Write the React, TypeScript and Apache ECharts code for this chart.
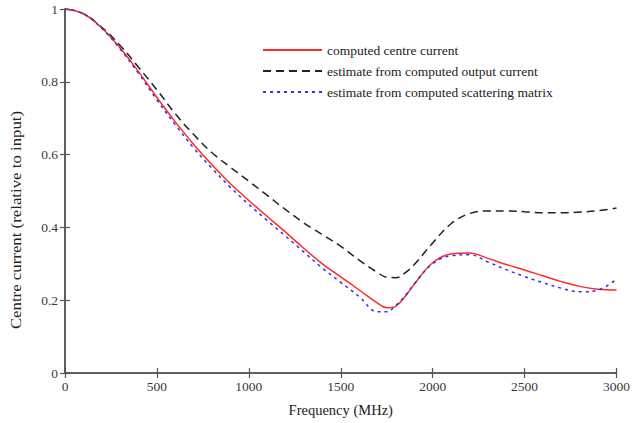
import React, { useEffect, useRef } from "react";
import * as echarts from "echarts";

const freq = [0, 100, 200, 300, 400, 500, 600, 700, 800, 900, 1000, 1100, 1200, 1300, 1400, 1500, 1600, 1700, 1750, 1800, 1850, 1900, 2000, 2100, 2200, 2300, 2400, 2500, 2600, 2700, 2800, 2900, 3000];
const centreCurrent = [1.0, 0.987, 0.948, 0.893, 0.828, 0.757, 0.69, 0.628, 0.572, 0.52, 0.474, 0.43, 0.387, 0.342, 0.30, 0.264, 0.228, 0.192, 0.179, 0.184, 0.21, 0.244, 0.303, 0.327, 0.33, 0.315, 0.298, 0.283, 0.267, 0.251, 0.238, 0.23, 0.228];
const fromOutput = [1.0, 0.987, 0.95, 0.9, 0.84, 0.778, 0.712, 0.655, 0.605, 0.565, 0.527, 0.488, 0.449, 0.412, 0.38, 0.348, 0.31, 0.276, 0.263, 0.262, 0.275, 0.298, 0.357, 0.41, 0.438, 0.445, 0.445, 0.443, 0.44, 0.44, 0.442, 0.446, 0.453];
const fromScattering = [1.0, 0.987, 0.947, 0.89, 0.823, 0.75, 0.682, 0.618, 0.562, 0.51, 0.463, 0.419, 0.376, 0.332, 0.288, 0.249, 0.21, 0.168, 0.168, 0.186, 0.212, 0.245, 0.30, 0.322, 0.325, 0.305, 0.284, 0.265, 0.248, 0.233, 0.223, 0.228, 0.258];

const seriesNames = [
  "computed centre current",
  "estimate from computed output current",
  "estimate from computed scattering matrix",
];

const FONT = "Liberation Serif";

export default function App() {
  const ref = useRef<HTMLDivElement>(null);
  useEffect(() => {
    if (!ref.current) return;
    const chart = echarts.init(ref.current, undefined, { renderer: "svg" });
    const axisLine = { show: true, lineStyle: { color: "#555", width: 1.5 } };
    const tick = { show: true, inside: true, length: 5, lineStyle: { color: "#555", width: 1.2 } };
    const label = { color: "#3a3a3a", fontFamily: FONT, fontSize: 13.5 };
    const mk = (vals: number[]) => freq.map((f, i) => [f, vals[i]]);
    chart.setOption({
      animation: false,
      backgroundColor: "#fff",
      grid: { left: 65, right: 15, top: 9, bottom: 50, containLabel: false },
      legend: {
        orient: "vertical",
        left: 257,
        top: 38,
        itemWidth: 59,
        itemHeight: 14,
        itemGap: 7,
        itemStyle: { opacity: 0 },
        textStyle: { color: "#222", fontFamily: FONT, fontSize: 13.5 },
        data: seriesNames,
      },
      xAxis: [
        {
          type: "value",
          min: 0,
          max: 3000,
          interval: 500,
          position: "bottom",
          axisLine,
          axisTick: tick,
          axisLabel: { ...label, margin: 6, formatter: (v: number) => String(v) },
          splitLine: { show: false },
          name: "Frequency (MHz)",
          nameLocation: "middle",
          nameGap: 29,
          nameTextStyle: { color: "#222", fontFamily: FONT, fontSize: 14.5 },
        },
        {
          type: "value",
          min: 0,
          max: 3000,
          interval: 500,
          position: "top",
          axisLine,
          axisTick: tick,
          axisLabel: { show: false },
          splitLine: { show: false },
        },
      ],
      yAxis: [
        {
          type: "value",
          min: 0,
          max: 1,
          interval: 0.2,
          position: "left",
          axisLine,
          axisTick: tick,
          axisLabel: { ...label, margin: 7, formatter: (v: number) => String(v) },
          splitLine: { show: false },
        },
        {
          type: "value",
          min: 0,
          max: 1,
          interval: 0.2,
          position: "right",
          axisLine,
          axisTick: tick,
          axisLabel: { show: false },
          splitLine: { show: false },
        },
      ],
      graphic: [
        {
          type: "text",
          x: 16,
          y: 220,
          rotation: Math.PI / 2,
          scaleX: 1.2,
          style: {
            text: "Centre current (relative to input)",
            fill: "#222",
            font: `14px "${FONT}"`,
            align: "center",
            verticalAlign: "middle",
          },
        },
      ],
      series: [
        {
          name: seriesNames[0],
          type: "line",
          data: mk(centreCurrent),
          smooth: 0.4,
          symbol: "none",
          lineStyle: { color: "#ff2a2a", width: 1.5, type: "solid" },
          itemStyle: { color: "#ff2a2a" },
          z: 3,
        },
        {
          name: seriesNames[1],
          type: "line",
          data: mk(fromOutput),
          smooth: 0.4,
          symbol: "none",
          lineStyle: { color: "#222", width: 1.5, type: [8, 5] },
          itemStyle: { color: "#222" },
          z: 2,
        },
        {
          name: seriesNames[2],
          type: "line",
          data: mk(fromScattering),
          smooth: 0.4,
          symbol: "none",
          lineStyle: { color: "#3434d8", width: 1.5, type: [3, 4] },
          itemStyle: { color: "#3434d8" },
          z: 4,
        },
      ],
    });
    return () => chart.dispose();
  }, []);
  return (
    <div
      ref={ref}
      style={{ position: "fixed", left: 0, top: 0, width: 633, height: 423 }}
    />
  );
}
